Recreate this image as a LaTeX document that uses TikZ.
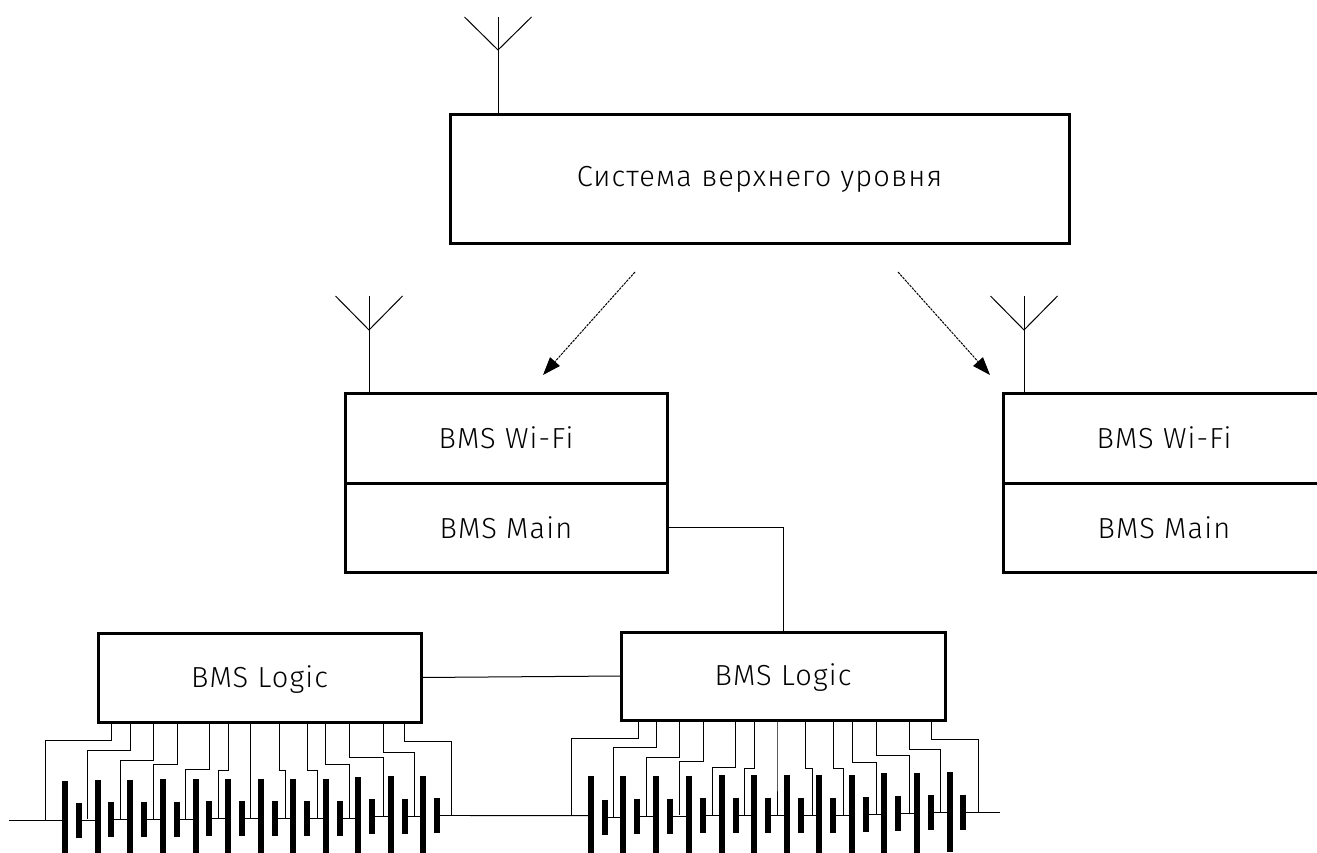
\documentclass[tikz,border=0pt]{standalone}
\usepackage{fontspec}
\setmainfont[LetterSpace=4]{Fira Sans Light}
\usetikzlibrary{arrows.meta}
\tikzset{
  box/.style={draw, line width=3pt, anchor=north west, inner sep=0pt, outer sep=0pt, font=\fontsize{29}{33}\selectfont},
  wire/.style={line width=1pt},
  radio/.style={line width=1pt, dash pattern=on 2.5pt off 1pt, -{Triangle[length=18pt,width=13pt]}},
  longplate/.style={line width=6pt},
  shortplate/.style={line width=6pt}
}
\begin{document}
\begin{tikzpicture}[x=1pt,y=-1pt]
  \useasboundingbox (0,0) rectangle (1317,853);
  \clip (0,0) rectangle (1317,853);
  \node[box, minimum width=619pt, minimum height=128pt] (top) at (450,115) {Система верхнего уровня};
  \node[box, minimum width=322pt, minimum height=90pt] (wifiA) at (345,393) {BMS Wi-Fi};
  \node[box, minimum width=322pt, minimum height=89pt] (mainA) at (345,483) {BMS Main};
  \node[box, minimum width=322pt, minimum height=90pt] (wifiB) at (1003,393) {BMS Wi-Fi};
  \node[box, minimum width=322pt, minimum height=89pt] (mainB) at (1003,483) {BMS Main};
  \node[box, text depth=2pt, minimum width=323pt, minimum height=89pt] (logicA) at (98,633) {BMS Logic};
  \node[box, text depth=2pt, minimum width=324pt, minimum height=88pt] (logicB) at (621,632) {BMS Logic};
  % antennas
  \foreach \name/\ax/\ay/\ab/\at in {antT/498/17/115/50, antA/369/296/393/330, antB/1024/296/393/330}{
    \coordinate (\name base) at (\ax,\ab);
    \coordinate (\name mid) at (\ax,\at);
    \coordinate (\name tip) at (\ax,\ay);
    \draw[wire] (\name base) -- (\name tip);
    \draw[wire] (\ax-33.5,\ay) -- (\name mid) -- (\ax+33.5,\ay);
  }
  % radio links
  \coordinate (txA) at (635,272);
  \coordinate (rxA) at (543,375);
  \coordinate (txB) at (898,272);
  \coordinate (rxB) at (990,375);
  \draw[radio] (txA) -- (rxA);
  \draw[radio] (txB) -- (rxB);
  \draw[wire] (mainA.east) -| (logicB.north -| 783,0);
  \draw[wire] (logicA.east) -- (logicB.west);
  % first battery
  \coordinate (startA) at (9,820.5);
  \draw[wire] (startA) -- (65,820.5);
  \foreach \lx/\sx/\ly/\sy/\nx in {65/78.7/820.5/820.5/97.5, 97.5/111/820/819.5/130, 130/144/819.5/819.3/163,
      163/177/819/819/195.5, 195.5/209/819/818.5/228, 228/242/818.5/818.7/260.7, 260.7/274.7/818.7/818.7/293,
      293/307/818.7/818.7/325.7, 325.7/339.7/818.5/818/358, 358/372/817/816/390.7, 390.7/404.7/816/816/423.3,
      423.3/437.3/816/815.3/470}{
    \draw[longplate] (\lx,\ly-40) -- (\lx,\ly+40);
    \draw[shortplate] (\sx,\sy-17.5) -- (\sx,\sy+17.5);
    \draw[wire] (\sx,\sy) -- (\nx,\sy);
  }
  % second battery
  \coordinate (endA) at (470,815.5);
  \coordinate (startB) at (590.7,815.7);
  \draw[wire] (endA) -- (startB);
  \foreach \lx/\sx/\ly/\sy/\nx in {590.7/604.7/816/817/623.3, 623.3/637.3/816/816/656, 656/670/816/816/689,
      689/703/815.5/815/721.7, 721.7/735.7/815/815/754.3, 754.3/768/815/815/786.7, 786.7/800.7/815/815/819.3,
      819.3/833/815/815/851.7, 851.7/865.7/815/814.7/884.3, 884.3/898.3/813/813/917, 917/931/812.5/812.7/949.7,
      949.7/963.3/812/812/1000}{
    \draw[longplate] (\lx,\ly-40) -- (\lx,\ly+40);
    \draw[shortplate] (\sx,\sy-17.5) -- (\sx,\sy+17.5);
    \draw[wire] (\sx,\sy) -- (\nx,\sy);
  }
  % taps of the first logic board
  \foreach \tx/\by/\dx/\wy in {111.7/740.7/45.7/820.5, 130/750.3/87.7/819, 153.3/760/120.3/819.5, 177/764/153/819,
      209.7/769.7/185.7/818.5, 228.3/770/218.7/818.5, 250.7/770/250.7/818.7, 279.7/770.3/285.3/818.7, 307.3/770.3/317/818.7,
      325.7/764.3/349.7/818, 349.7/757.7/383.7/816, 383.7/752/414.3/816, 404.7/741.3/451.7/815.3}{
    \draw[wire] (\tx,722) |- (\dx,\by) -- (\dx,\wy);
  }
  % taps of the second logic board
  \foreach \tx/\by/\dx/\wy in {638/738.3/571.7/815.7, 656.3/747.7/613.7/817, 679.3/757/646.7/816, 703.3/761.7/679.3/815,
      735.7/767/712/815, 754.3/768/744.7/815, 777/768/777/815, 805.7/768/812/815, 833.3/768/843/815,
      852/762/876.3/814.7, 876.3/755/909.7/813, 909.7/749.7/940.7/812.7, 931/739/978/812}{
    \draw[wire] (\tx,720) |- (\dx,\by) -- (\dx,\wy);
  }
\end{tikzpicture}
\end{document}
